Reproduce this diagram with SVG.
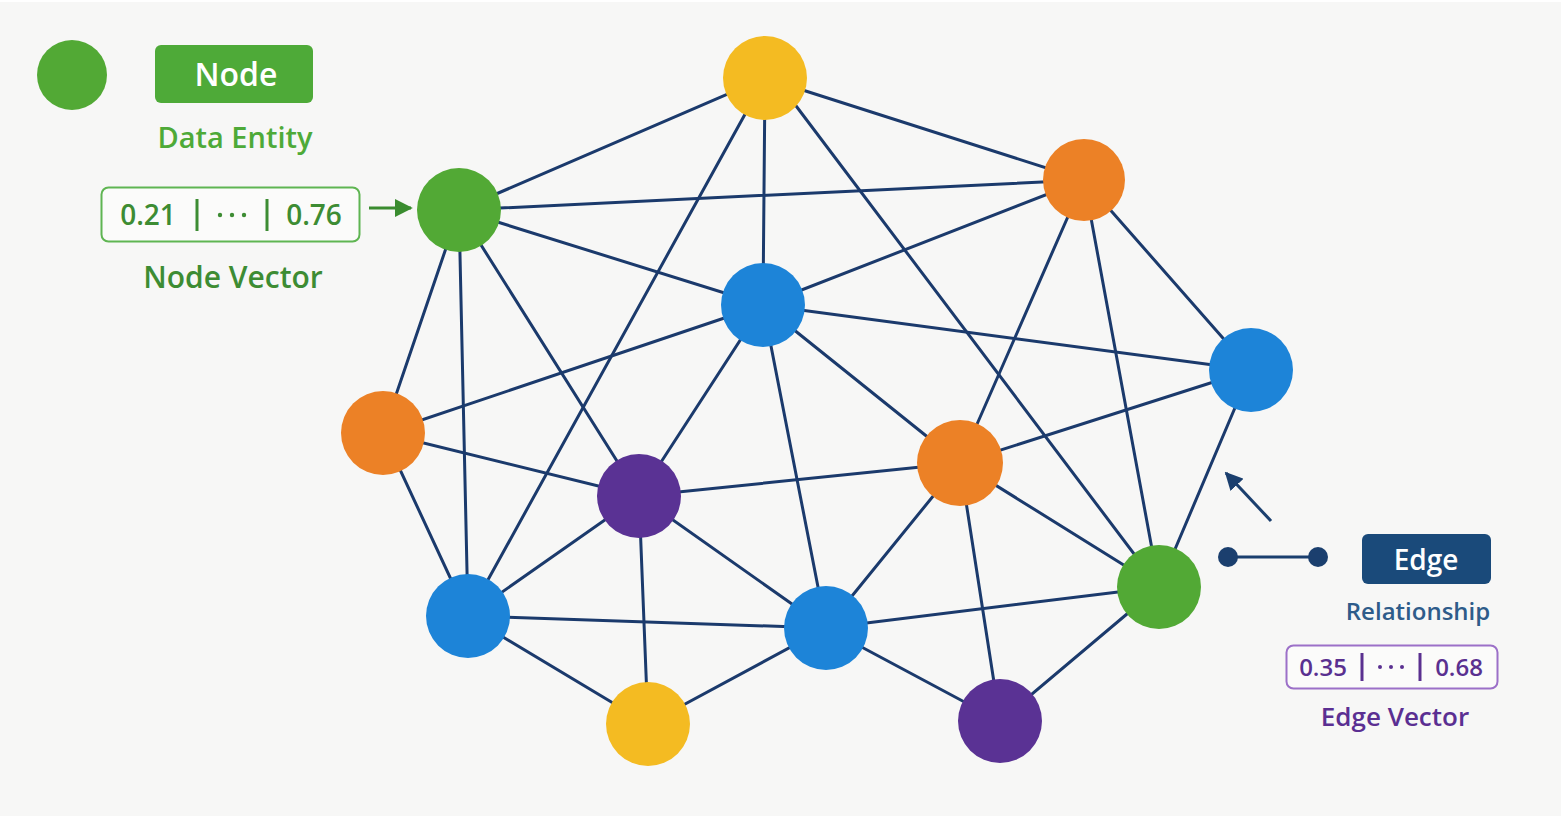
<svg xmlns="http://www.w3.org/2000/svg" width="1561" height="816" viewBox="0 0 1561 816">
<defs>
<style>
.bg{fill:#f7f7f6}
.e{stroke:#1b3a6c;stroke-width:3;fill:none;stroke-linecap:round}
.yellow{fill:#f4bb22}
.green{fill:#52a935}
.orange{fill:#ec8126}
.blue{fill:#1d84d8}
.purple{fill:#5a3294}
.t{font-family:"Open Sans","Liberation Sans",Arial,sans-serif;text-anchor:middle;font-weight:600}
.v{font-family:"Open Sans","Liberation Sans",Arial,sans-serif;text-anchor:middle;font-weight:600}
</style>
<marker id="ag" viewBox="0 0 10 10" refX="9" refY="5" markerWidth="6" markerHeight="6" orient="auto" markerUnits="strokeWidth">
<path d="M0,0 L10,5 L0,10 z" fill="#3a8c2f"/>
</marker>
<marker id="an" viewBox="0 0 10 10" refX="9" refY="5" markerWidth="6" markerHeight="6" orient="auto" markerUnits="strokeWidth">
<path d="M0,0 L10,5 L0,10 z" fill="#1b3f6e"/>
</marker>
</defs>
<rect class="bg" x="0" y="2" width="1561" height="814"/>
<rect x="0" y="0" width="1561" height="2" fill="#ffffff"/>

<g id="connectors">
<line class="e" x1="765" y1="78" x2="459" y2="210"/>
<line class="e" x1="765" y1="78" x2="468" y2="616"/>
<line class="e" x1="765" y1="78" x2="763" y2="305"/>
<line class="e" x1="765" y1="78" x2="1084" y2="180"/>
<line class="e" x1="775" y1="78" x2="1159" y2="587"/>
<line class="e" x1="459" y1="210" x2="1084" y2="180"/>
<line class="e" x1="459" y1="210" x2="763" y2="305"/>
<line class="e" x1="459" y1="210" x2="383" y2="433"/>
<line class="e" x1="459" y1="210" x2="468" y2="616"/>
<line class="e" x1="459" y1="210" x2="639" y2="496"/>
<line class="e" x1="763" y1="305" x2="383" y2="433"/>
<line class="e" x1="763" y1="305" x2="1084" y2="180"/>
<line class="e" x1="763" y1="305" x2="1251" y2="370"/>
<line class="e" x1="763" y1="305" x2="639" y2="496"/>
<line class="e" x1="763" y1="305" x2="826" y2="628"/>
<line class="e" x1="763" y1="305" x2="960" y2="463"/>
<line class="e" x1="1084" y1="180" x2="960" y2="463"/>
<line class="e" x1="1084" y1="180" x2="1159" y2="587"/>
<line class="e" x1="1084" y1="180" x2="1251" y2="370"/>
<line class="e" x1="1251" y1="370" x2="960" y2="463"/>
<line class="e" x1="1251" y1="370" x2="1159" y2="587"/>
<line class="e" x1="960" y1="463" x2="639" y2="496"/>
<line class="e" x1="960" y1="463" x2="826" y2="628"/>
<line class="e" x1="960" y1="463" x2="1159" y2="587"/>
<line class="e" x1="960" y1="463" x2="1000" y2="721"/>
<line class="e" x1="639" y1="496" x2="383" y2="433"/>
<line class="e" x1="639" y1="496" x2="468" y2="616"/>
<line class="e" x1="639" y1="496" x2="826" y2="628"/>
<line class="e" x1="639" y1="496" x2="648" y2="724"/>
<line class="e" x1="468" y1="616" x2="383" y2="433"/>
<line class="e" x1="468" y1="616" x2="826" y2="628"/>
<line class="e" x1="468" y1="616" x2="648" y2="724"/>
<line class="e" x1="826" y1="628" x2="648" y2="724"/>
<line class="e" x1="826" y1="628" x2="1159" y2="587"/>
<line class="e" x1="826" y1="628" x2="1000" y2="721"/>
<line class="e" x1="1159" y1="587" x2="1000" y2="721"/>
</g>

<g id="node-yellow-top"><circle class="yellow" cx="765" cy="78" r="42"/></g>
<g id="node-green-left"><circle class="green" cx="459" cy="210" r="42"/></g>
<g id="node-orange-topright"><circle class="orange" cx="1084" cy="180" r="41"/></g>
<g id="node-blue-center"><circle class="blue" cx="763" cy="305" r="42"/></g>
<g id="node-blue-right"><circle class="blue" cx="1251" cy="370" r="42"/></g>
<g id="node-orange-left"><circle class="orange" cx="383" cy="433" r="42"/></g>
<g id="node-orange-center"><circle class="orange" cx="960" cy="463" r="43"/></g>
<g id="node-purple-center"><circle class="purple" cx="639" cy="496" r="42"/></g>
<g id="node-blue-lowerleft"><circle class="blue" cx="468" cy="616" r="42"/></g>
<g id="node-blue-lowercenter"><circle class="blue" cx="826" cy="628" r="42"/></g>
<g id="node-green-lowerright"><circle class="green" cx="1159" cy="587" r="42"/></g>
<g id="node-yellow-bottom"><circle class="yellow" cx="648" cy="724" r="42"/></g>
<g id="node-purple-bottom"><circle class="purple" cx="1000" cy="721" r="42"/></g>

<g id="legend-node">
<circle class="green" cx="72" cy="75" r="35"/>
<rect x="155" y="45" width="158" height="58" rx="6" fill="#4eaa38"/>
<text class="t" x="236" y="86" font-size="32" fill="#ffffff">Node</text>
<text class="t" x="235" y="148" font-size="29" fill="#4eaa38">Data Entity</text>
<rect x="101.5" y="187.5" width="258" height="54" rx="7" fill="#fbfbfa" stroke="#5fb552" stroke-width="2"/>
<text class="v" x="148" y="225" font-size="28" fill="#3d8c33">0.21</text>
<line x1="197" y1="199" x2="197" y2="231" stroke="#3d8c33" stroke-width="3"/>
<g fill="#3d8c33"><circle cx="220" cy="215" r="2.2"/><circle cx="232" cy="215" r="2.2"/><circle cx="244" cy="215" r="2.2"/></g>
<line x1="267" y1="199" x2="267" y2="231" stroke="#3d8c33" stroke-width="3"/>
<text class="v" x="314" y="225" font-size="28" fill="#3d8c33">0.76</text>
<line x1="369" y1="208" x2="411" y2="208" stroke="#3a8c2f" stroke-width="3" marker-end="url(#ag)"/>
<text class="t" x="233" y="288" font-size="30" fill="#3d8c33">Node Vector</text>
</g>

<g id="legend-edge">
<line x1="1271" y1="521" x2="1226" y2="473" stroke="#1b3f6e" stroke-width="3" marker-end="url(#an)"/>
<line x1="1228" y1="557" x2="1318" y2="557" stroke="#1b3f6e" stroke-width="3"/>
<circle cx="1228" cy="557" r="10" fill="#1b3f6e"/>
<circle cx="1318" cy="557" r="10" fill="#1b3f6e"/>
<rect x="1362" y="534" width="129" height="50" rx="6" fill="#1a4a7a"/>
<text class="t" x="1426" y="570" font-size="28" fill="#ffffff">Edge</text>
<text class="t" x="1418" y="620" font-size="24" fill="#2e5c8a">Relationship</text>
<rect x="1286.5" y="645.5" width="211" height="43" rx="7" fill="#fbfbfa" stroke="#9c70c8" stroke-width="2"/>
<text class="v" x="1323" y="676" font-size="24" fill="#5a3090">0.35</text>
<line x1="1362" y1="653" x2="1362" y2="681" stroke="#5a3090" stroke-width="3"/>
<g fill="#5a3090"><circle cx="1380" cy="667" r="2"/><circle cx="1391" cy="667" r="2"/><circle cx="1402" cy="667" r="2"/></g>
<line x1="1420" y1="653" x2="1420" y2="681" stroke="#5a3090" stroke-width="3"/>
<text class="v" x="1459" y="676" font-size="24" fill="#5a3090">0.68</text>
<text class="t" x="1395" y="726" font-size="26" fill="#5b2f92">Edge Vector</text>
</g>
</svg>
